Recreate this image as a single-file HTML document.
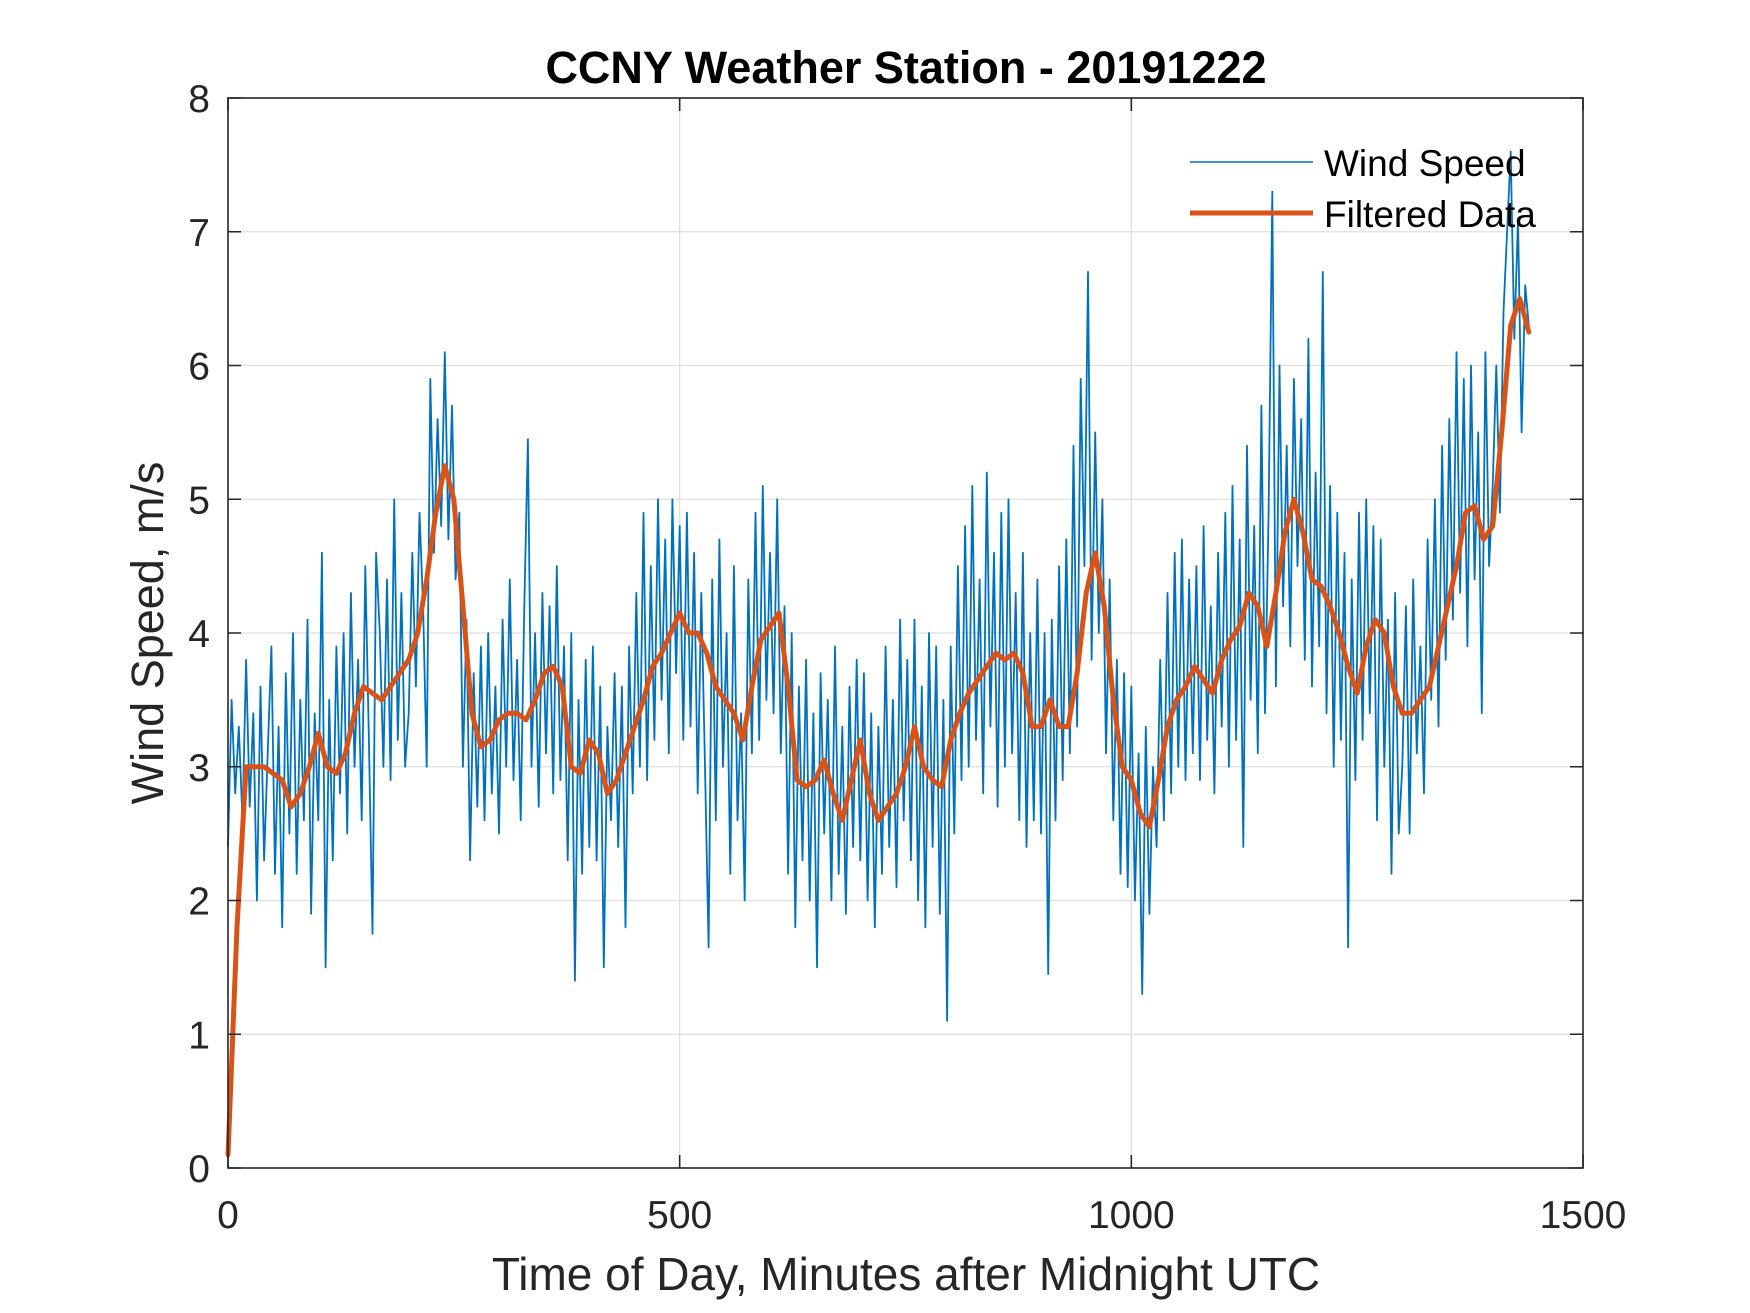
<!DOCTYPE html>
<html><head><meta charset="utf-8"><style>
html,body{margin:0;padding:0;background:#fff;}
svg{display:block;font-family:"Liberation Sans",Arial,sans-serif;}
</style></head><body>
<svg id="chart" width="1750" height="1313" viewBox="0 0 1750 1313" xmlns="http://www.w3.org/2000/svg">
<rect width="1750" height="1313" fill="#fff"/>
<g id="grid"></g>
<g id="series"></g>
<rect x="228" y="98" width="1355" height="1070" fill="none" stroke="#262626" stroke-width="1.6"/>
<g id="ticks"></g>
<text x="906" y="83" text-anchor="middle" font-size="45" font-weight="bold" fill="#000">CCNY Weather Station - 20191222</text>
<text x="906" y="1290" text-anchor="middle" font-size="46" fill="#262626">Time of Day, Minutes after Midnight UTC</text>
<text transform="translate(163,633) rotate(-90)" text-anchor="middle" font-size="45" fill="#262626">Wind Speed, m/s</text>
<g>
<line x1="1190" y1="162" x2="1313" y2="162" stroke="#0072BD" stroke-width="1.6"/>
<text x="1324" y="176" font-size="37" fill="#000">Wind Speed</text>
<line x1="1190" y1="213" x2="1313" y2="213" stroke="#D95319" stroke-width="5"/>
<text x="1324" y="227" font-size="37" fill="#000">Filtered Data</text>
</g>
</svg>
<script>
const xTicks = [0, 500, 1000, 1500];
const yTicks = [0, 1, 2, 3, 4, 5, 6, 7, 8];
const rawStep = 4;
const rawValues = [
2.4,3.5,2.8,3.3,2.6,3.8,2.7,3.4,2.0,3.6,2.3,3.1,3.9,2.2,3.3,1.8,3.7,2.5,4.0,2.2,3.5,2.6,4.1,1.9,3.4,
2.6,4.6,1.5,3.5,2.3,3.9,2.8,4.0,2.5,4.3,3.0,3.8,2.6,4.5,3.2,1.75,4.6,4.0,3.0,4.4,2.9,5.0,3.2,4.3,3.0,
3.4,4.6,3.6,4.9,4.2,3.0,5.9,4.6,5.6,4.8,6.1,4.7,5.7,4.4,4.9,3.0,4.1,2.3,3.7,2.7,3.9,2.6,4.0,2.8,3.6,
2.5,4.1,3.0,4.4,2.9,3.8,2.6,4.2,5.45,3.0,4.0,2.7,4.3,3.1,4.2,2.8,4.5,2.9,3.9,2.3,4.0,1.4,3.5,2.2,3.8,
2.4,3.9,2.3,3.6,1.5,3.3,2.6,3.7,2.4,3.6,1.8,3.9,2.8,4.3,3.0,4.9,2.9,4.5,3.2,5.0,3.5,4.7,3.1,5.0,3.7,
4.8,3.2,4.9,3.3,4.6,2.8,4.3,3.0,1.65,4.4,2.6,4.7,3.0,4.0,2.2,4.5,2.6,3.4,2.0,4.4,3.1,4.9,3.2,5.1,3.5,
4.6,3.4,5.0,3.1,4.2,2.2,4.0,1.8,3.6,2.3,3.8,2.0,3.4,1.5,3.7,2.5,3.5,2.0,3.9,2.2,3.3,1.9,3.6,2.4,3.8,
2.3,3.7,2.0,3.4,1.8,3.3,2.2,3.9,2.4,3.5,2.1,4.1,2.6,3.8,2.3,4.1,2.0,3.6,1.8,4.0,2.4,3.9,1.9,3.5,1.1,
3.9,2.5,4.5,2.9,4.8,3.0,5.1,3.2,4.4,2.8,5.2,3.3,4.6,2.7,4.9,3.0,5.0,3.1,4.3,2.6,4.6,2.4,4.0,2.6,4.4,
2.5,4.0,1.45,4.1,2.6,4.5,2.9,4.7,3.1,5.4,3.3,5.9,4.5,6.7,3.8,5.5,4.0,5.0,3.1,4.4,2.6,3.8,2.2,3.7,2.1,
3.6,2.0,3.1,1.3,3.3,1.9,3.0,2.4,3.8,2.6,4.3,2.8,4.6,3.0,4.7,2.9,4.4,3.1,4.5,2.9,4.8,3.2,4.2,2.8,4.6,
3.3,4.9,3.0,5.1,3.2,4.7,2.4,5.4,3.5,4.8,3.1,5.7,3.4,4.9,7.3,3.6,6.0,4.2,5.4,3.9,5.9,4.5,5.6,3.8,6.2,
3.6,5.2,3.9,6.7,3.4,5.1,3.0,4.9,3.2,4.6,1.65,4.4,2.9,4.9,3.2,5.0,3.4,4.8,2.6,4.7,3.0,4.1,2.2,4.3,2.5,
3.0,4.2,2.5,4.4,3.1,3.9,2.8,4.7,3.5,5.0,3.3,5.4,3.8,5.6,4.1,6.1,4.3,5.9,3.9,6.0,4.4,5.5,3.4,6.1,4.5,
5.1,6.0,4.9,6.4,7.0,7.6,6.2,7.1,5.5,6.6,
6.3
];
const filtStep = 10;
const filteredValues = [
0.1,1.8,3.0,3.0,3.0,2.95,2.9,2.7,2.8,3.0,3.25,3.0,2.95,3.1,3.4,3.6,3.55,3.5,3.6,3.7,
3.8,4.0,4.4,4.9,5.25,5.0,4.2,3.4,3.15,3.2,3.35,3.4,3.4,3.35,3.5,3.7,3.75,3.6,3.0,2.95,
3.2,3.1,2.8,2.9,3.1,3.3,3.5,3.75,3.85,4.0,4.15,4.0,4.0,3.85,3.6,3.5,3.4,3.2,3.6,3.95,
4.05,4.15,3.6,2.9,2.85,2.9,3.05,2.8,2.6,2.9,3.2,2.8,2.6,2.7,2.8,3.0,3.3,3.0,2.9,2.85,
3.2,3.4,3.55,3.65,3.75,3.85,3.8,3.85,3.7,3.3,3.3,3.5,3.3,3.3,3.7,4.3,4.6,4.2,3.5,3.0,
2.9,2.65,2.55,2.9,3.3,3.5,3.6,3.75,3.65,3.55,3.8,3.95,4.05,4.3,4.2,3.9,4.3,4.75,5.0,4.75,
4.4,4.35,4.2,4.0,3.75,3.55,3.9,4.1,4.0,3.6,3.4,3.4,3.5,3.6,3.9,4.2,4.5,4.9,4.95,4.7,
4.8,5.5,6.3,6.5,6.25
];
const X0 = 228, X1 = 1583, Y0 = 1168, Y1 = 98;
function xScale(t){ return X0 + (t - 0) / 1500 * (X1 - X0); }
function yScale(v){ return Y0 - v / 8 * (Y0 - Y1); }
const NS = 'http://www.w3.org/2000/svg';
function mk(tag, attrs, parent){ const e = document.createElementNS(NS, tag); for (const k in attrs) e.setAttribute(k, attrs[k]); parent.appendChild(e); return e; }
const grid = document.getElementById('grid');
const ticks = document.getElementById('ticks');
xTicks.forEach(t => {
  const x = xScale(t);
  if (t > 0 && t < 1500) {
    const g = mk('line', {x1:x, y1:Y1, x2:x, y2:Y0, stroke:'#dfdfdf', 'stroke-width':1.3}, grid);
    
    
  }
  const tk = mk('path', {d:`M${x},${Y0}v-13M${x},${Y1}v13`, stroke:'#262626', 'stroke-width':1.6}, ticks);
  
  
  const lb = mk('text', {x:x, y:1228, 'text-anchor':'middle', 'font-size':39, fill:'#262626'}, ticks);
  lb.textContent = t;
  
  
});
yTicks.forEach(v => {
  const y = yScale(v);
  if (v > 0 && v < 8) {
    const g = mk('line', {x1:X0, y1:y, x2:X1, y2:y, stroke:'#dfdfdf', 'stroke-width':1.3}, grid);
    
    
  }
  const tk = mk('path', {d:`M${X0},${y}h13M${X1},${y}h-13`, stroke:'#262626', 'stroke-width':1.6}, ticks);
  
  
  const lb = mk('text', {x:210, y:y+14, 'text-anchor':'end', 'font-size':39, fill:'#262626'}, ticks);
  lb.textContent = v;
  
  
});
const series = document.getElementById('series');
const rawPts = rawValues.map((v,i) => xScale(i*rawStep).toFixed(1) + ',' + yScale(v).toFixed(1)).join(' ');
const raw = mk('polyline', {points:rawPts, fill:'none', stroke:'#0072BD', 'stroke-width':1.8, 'stroke-linejoin':'round'}, series);


const filtPts = filteredValues.map((v,i) => xScale(i*filtStep).toFixed(1) + ',' + yScale(v).toFixed(1)).join(' ');
const filt = mk('polyline', {points:filtPts, fill:'none', stroke:'#D95319', 'stroke-width':5, 'stroke-linejoin':'round', 'stroke-linecap':'round'}, series);


</script>
</body></html>
